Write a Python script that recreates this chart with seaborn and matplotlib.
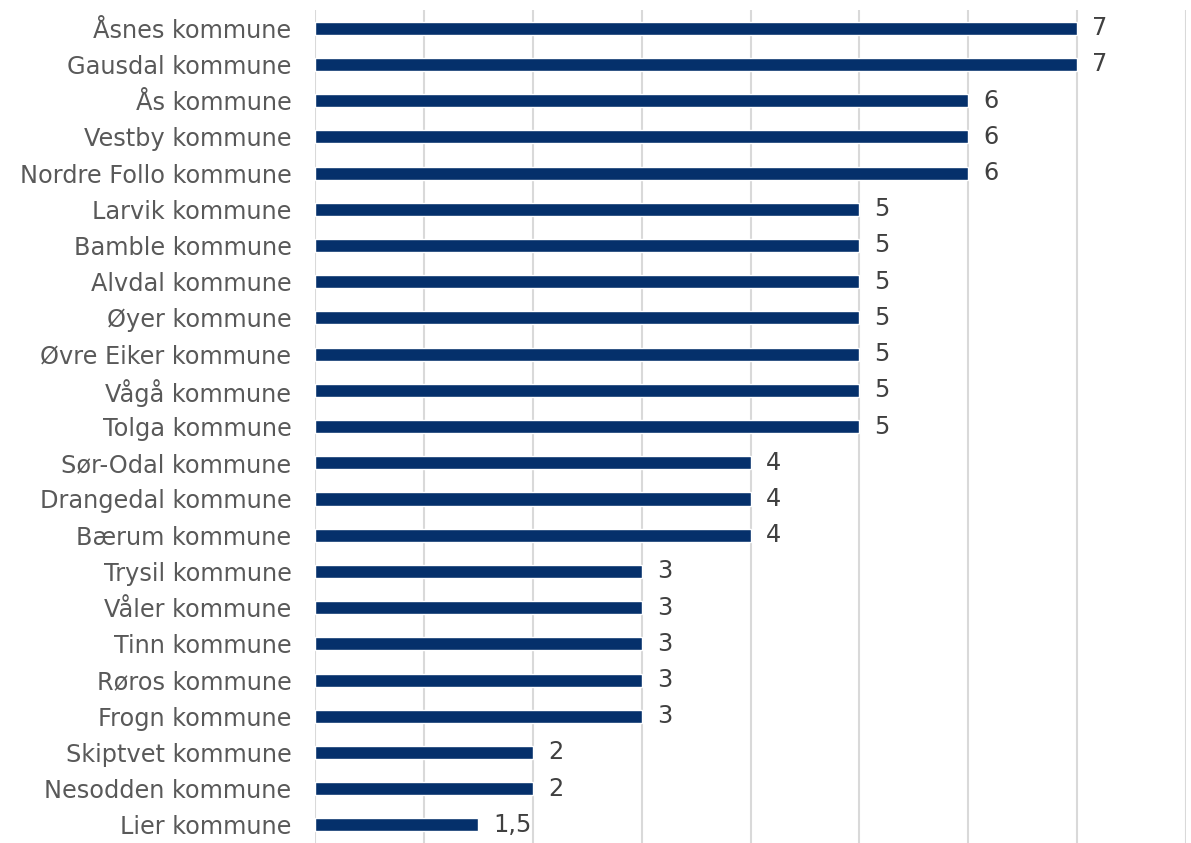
import matplotlib
matplotlib.use("Agg")
import matplotlib.pyplot as plt
import seaborn as sns
import pandas as pd

kommuner = [
    "Åsnes kommune", "Gausdal kommune", "Ås kommune", "Vestby kommune",
    "Nordre Follo kommune", "Larvik kommune", "Bamble kommune", "Alvdal kommune",
    "Øyer kommune", "Øvre Eiker kommune", "Vågå kommune", "Tolga kommune",
    "Sør-Odal kommune", "Drangedal kommune", "Bærum kommune", "Trysil kommune",
    "Våler kommune", "Tinn kommune", "Røros kommune", "Frogn kommune",
    "Skiptvet kommune", "Nesodden kommune", "Lier kommune",
]
verdier = [7, 7, 6, 6, 6, 5, 5, 5, 5, 5, 5, 5, 4, 4, 4, 3, 3, 3, 3, 3, 2, 2, 1.5]

df = pd.DataFrame({"kommune": kommuner, "verdi": verdier})

sns.set_style("white")
plt.rcParams["font.family"] = ["DejaVu Sans"]

fig = plt.figure(figsize=(11.91, 8.43), dpi=100)
ax = fig.add_axes([0.2645, 0.0, 0.7313, 0.988])

sns.barplot(data=df, x="verdi", y="kommune", color="#05306b", width=0.36,
            saturation=1, ax=ax, zorder=3)

ax.set_xlim(0, 8)
ax.set_xticks(range(0, 9))
ax.set_xticklabels([])
ax.tick_params(axis="x", length=0)
ax.tick_params(axis="y", length=0, pad=17, labelsize=17.3, labelcolor="#595959")
ax.grid(axis="x", color="#d9d9d9", linewidth=1.5, zorder=0)
ax.set_xlabel("")
ax.set_ylabel("")
for s in ax.spines.values():
    s.set_visible(False)

for i, v in enumerate(verdier):
    tekst = f"{v:g}".replace(".", ",")
    ax.text(v + 0.14, i, tekst, va="center", ha="left", fontsize=17.3, color="#404040")

fig.savefig("out.png", dpi=100)
